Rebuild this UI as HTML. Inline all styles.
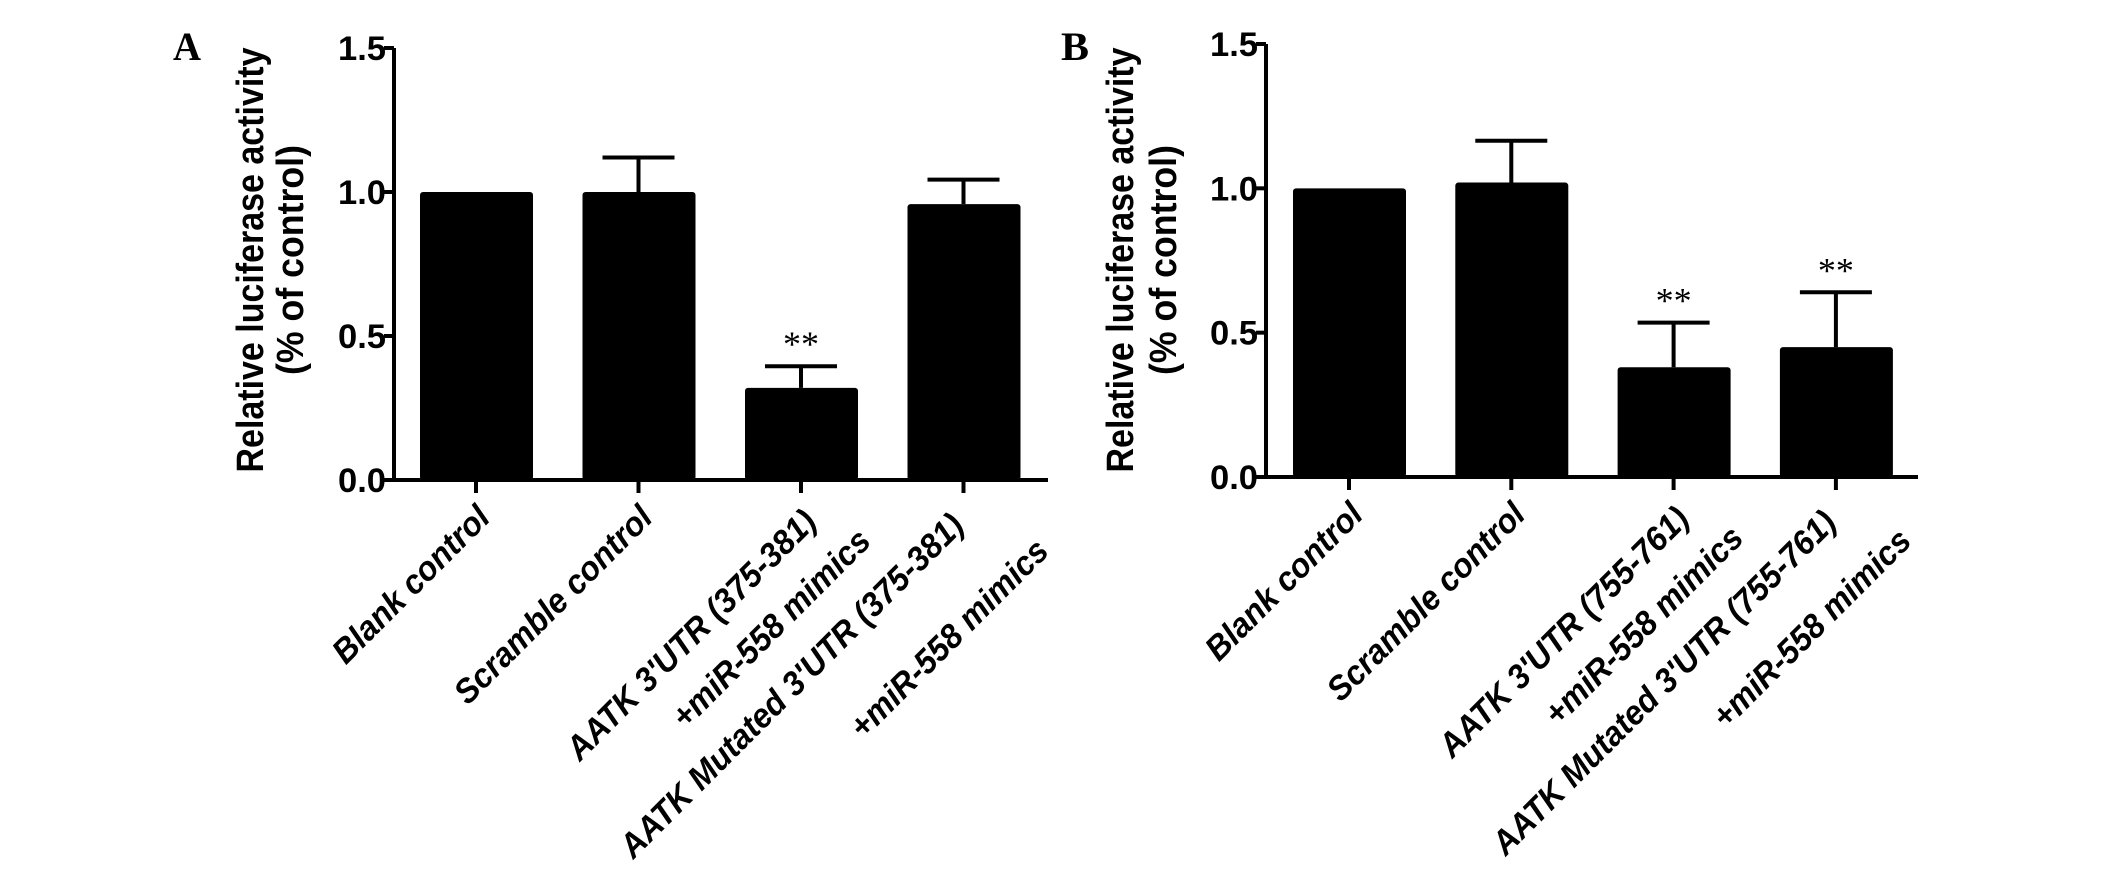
<!DOCTYPE html>
<html><head><meta charset="utf-8"><style>
html,body{margin:0;padding:0;background:#fff;overflow:hidden;}
svg{display:block;}
</style></head><body>
<svg id="fig" width="2126" height="876" viewBox="0 0 2126 876" xmlns="http://www.w3.org/2000/svg"></svg>
<script>
const categoriesA = [["Blank control"],["Scramble control"],["AATK 3'UTR (375-381)","+miR-558 mimics"],["AATK Mutated 3'UTR (375-381)","+miR-558 mimics"]];
const valuesA = [1.0, 1.0, 0.32, 0.958];
const errorsA = [0, 0.12, 0.075, 0.085];
const starsA = ["", "", "**", ""];
const categoriesB = [["Blank control"],["Scramble control"],["AATK 3'UTR (755-761)","+miR-558 mimics"],["AATK Mutated 3'UTR (755-761)","+miR-558 mimics"]];
const valuesB = [1.0, 1.02, 0.38, 0.45];
const errorsB = [0, 0.145, 0.155, 0.19];
const starsB = ["", "", "**", "**"];
const yTicks = [0.0, 0.5, 1.0, 1.5];
const yTickLabels = ["0.0", "0.5", "1.0", "1.5"];

const NS = "http://www.w3.org/2000/svg";
const svg = document.getElementById('fig');
function mk(tag, attrs, parent, text){
  const e = document.createElementNS(NS, tag);
  for (const k in attrs) e.setAttribute(k, attrs[k]);
  if (text !== undefined) e.textContent = text;
  (parent || svg).appendChild(e);
  return e;
}

function panel(o){
  const g = mk('g', {});
  
  
  const y = v => o.y0 - (v / 1.5) * (o.y0 - o.y15);
  const xc = i => o.x0 + o.step * i;
  const L = mk('text', {x:o.letterX, y:60, 'font-family':'"Liberation Serif", serif', 'font-weight':'bold', 'font-size':40, textLength:28, lengthAdjust:'spacingAndGlyphs'}, g, o.letter);
  
  
  const yl = mk('g', {}, g);
  
  
  mk('text', {transform:`translate(${o.yl1x},${o.ylc}) rotate(-90)`, 'text-anchor':'middle', 'font-family':'"Liberation Sans", sans-serif', 'font-weight':'bold', 'font-size':38, textLength:425, lengthAdjust:'spacingAndGlyphs'}, yl, 'Relative luciferase activity');
  mk('text', {transform:`translate(${o.yl2x},${o.ylc}) rotate(-90)`, 'text-anchor':'middle', 'font-family':'"Liberation Sans", sans-serif', 'font-weight':'bold', 'font-size':38, textLength:230, lengthAdjust:'spacingAndGlyphs'}, yl, '(% of control)');
  for (let i = 0; i < o.values.length; i++){
    const top = y(o.values[i]);
    const r = mk('rect', {x:xc(i) - 56, y:top, width:113, height:o.y0 - top, fill:'#000', rx:3}, g);
    
    
    if (o.errors[i] > 0){
      const et = y(o.values[i] + o.errors[i]);
      const eb = mk('path', {d:`M${xc(i)},${top} V${et} M${xc(i)-36},${et} H${xc(i)+36}`, stroke:'#000', 'stroke-width':4, fill:'none'}, g);
      
      
      if (o.stars[i]){
        const s = mk('text', {x:xc(i), y:et - 10, 'text-anchor':'middle', 'font-family':'"Liberation Serif", serif', 'font-size':36}, g, o.stars[i]);
        
        
      }
    }
  }
  const ax = mk('path', {d:`M${o.axisX},${y(1.5)} V${o.y0} H${o.xEnd}`, stroke:'#000', 'stroke-width':4, fill:'none'}, g);
  
  
  for (let t = 0; t < yTicks.length; t++){
    const ty = y(yTicks[t]);
    mk('line', {x1:o.axisX - 10, x2:o.axisX, y1:ty, y2:ty, stroke:'#000', 'stroke-width':4}, g);
    const tl = mk('text', {x:o.axisX - 8, y:ty + 12, 'text-anchor':'end', 'font-family':'"Liberation Sans", sans-serif', 'font-weight':'bold', 'font-size':34, textLength:48, lengthAdjust:'spacingAndGlyphs'}, g, yTickLabels[t]);
    
    
  }
  for (let i = 0; i < o.cats.length; i++){
    mk('line', {x1:xc(i), x2:xc(i), y1:o.y0, y2:o.y0 + 13, stroke:'#000', 'stroke-width':4}, g);
    const lg = mk('g', {transform:`translate(${xc(i)},${o.y0 + 13}) rotate(-45) scale(0.95,1)`}, g);
    
    
    const lines = o.cats[i];
    const offs = lines.length === 1 ? [[-8,30]] : o.two[i];
    for (let k = 0; k < lines.length; k++){
      mk('text', {x:offs[k][0], y:offs[k][1], 'text-anchor':'end', 'font-family':'"Liberation Sans", sans-serif', 'font-weight':'bold', 'font-style':'italic', 'font-size':34}, lg, lines[k]);
    }
  }
}

panel({name:'panel-a', letter:'A', letterX:173, values:valuesA, errors:errorsA, stars:starsA, cats:categoriesA,
  y0:480, y15:48, x0:476, step:162.5, axisX:394, xEnd:1048, yl1x:263, yl2x:303, ylc:260,
  two:{2:[[-10,34],[16,86]], 3:[[-24,26],[20,104]]}});
panel({name:'panel-b', letter:'B', letterX:1061, values:valuesB, errors:errorsB, stars:starsB, cats:categoriesB,
  y0:477, y15:44, x0:1349, step:162.3, axisX:1266, xEnd:1918, yl1x:1133, yl2x:1176, ylc:260,
  two:{2:[[-10,34],[16,86]], 3:[[-24,26],[18,92]]}});
</script>
</body></html>
